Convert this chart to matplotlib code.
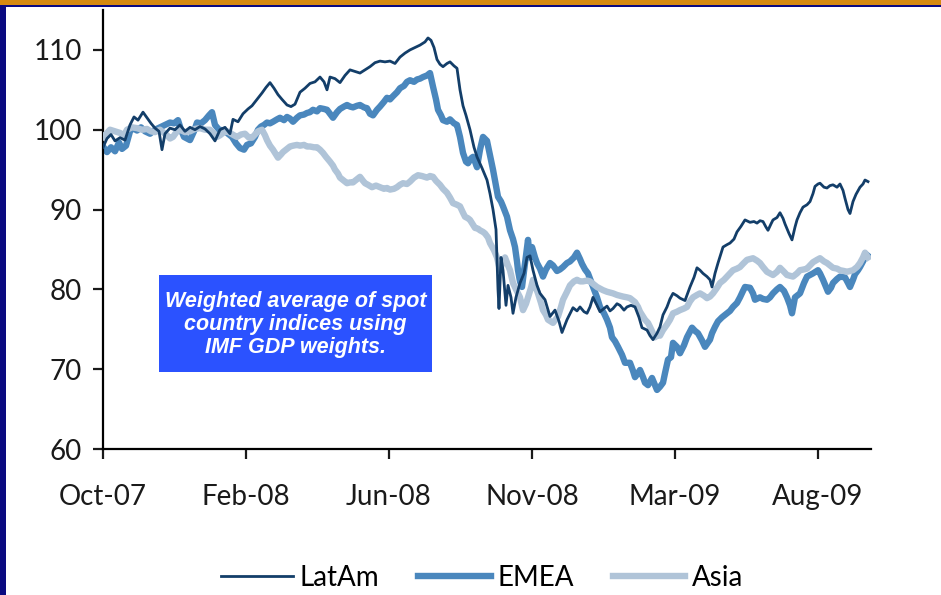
import matplotlib
matplotlib.use("Agg")
import matplotlib.pyplot as plt
from matplotlib.patches import Rectangle

# ---------------------------------------------------------------- data ----#
# observation index (trading days from Oct-07) and index level
latam_t = [0,4,8,12,17,22,27,31,35,40,44,48,52,56,59,62,67,72,77,82,87,92,97,102,107,112,117,122,127,130,
           135,140,145,149,154,159,163,167,171,175,179,184,188,192,197,202,207,212,217,221,224,227,232,237,242,
           247,252,257,262,267,272,277,282,287,292,297,302,307,312,317,322,325,328,331,334,337,340,344,347,351,
           354,357,360,363,367,371,374,379,384,387,390,393,395,396,398,400,403,405,408,410,413,417,421,424,427,
           430,434,437,442,447,452,456,459,464,470,474,477,481,484,487,490,494,497,501,504,507,510,514,517,521,
           524,528,532,536,539,544,547,550,554,557,560,564,567,570,574,577,582,587,591,594,597,600,604,607,609,
           612,615,620,624,627,631,634,638,642,647,651,654,657,660,663,665,668,670,674,677,680,682,686,689,692,
           694,697,700,704,707,710,712,715,717,721,724,727,730,734,737,740,742,745,747,750,753,757,760,762,765]
latam = [97.8,98.9,99.4,98.6,99.0,98.7,100.6,101.6,101.2,102.2,101.5,100.8,100.2,99.8,97.5,99.5,100.2,100.0,
         100.6,99.8,100.3,100.0,100.4,100.1,99.5,98.6,100.0,100.3,99.5,101.3,101.0,102.0,102.6,103.0,103.8,104.6,
         105.3,105.9,105.2,104.4,103.8,103.1,102.9,103.2,104.7,105.2,105.8,106.0,106.6,106.0,105.0,106.6,106.4,
         105.9,106.8,107.5,107.3,107.1,107.5,107.9,108.4,108.6,108.5,108.6,108.3,109.1,109.6,110.0,110.3,110.6,
         111.0,111.5,111.2,110.3,108.8,108.2,107.9,108.3,108.5,108.0,107.7,105.0,103.0,101.8,100.0,97.8,96.6,
         95.2,93.7,92.0,90.0,87.5,80.0,77.6,84.0,82.4,78.0,80.5,79.0,77.0,79.0,80.8,82.0,84.0,84.2,82.4,80.5,
         79.5,78.7,76.6,77.4,76.0,74.6,76.2,77.7,77.3,77.8,77.2,77.0,77.8,79.0,78.0,77.2,77.6,77.9,77.3,77.6,
         78.2,78.0,77.4,77.8,78.0,77.8,76.5,75.2,74.9,74.2,73.7,74.5,75.3,76.8,77.8,78.8,79.5,79.2,78.9,78.6,
         80.3,81.5,82.7,82.4,82.0,81.6,81.2,80.3,82.0,83.3,85.3,85.6,85.8,86.3,87.2,87.9,88.7,88.4,88.5,88.3,
         88.6,88.5,87.8,87.4,88.2,88.7,89.0,89.6,88.9,88.2,87.0,86.2,87.8,88.7,89.6,90.3,90.6,91.0,92.0,92.9,
         93.2,93.3,92.8,92.7,93.0,93.1,92.8,93.2,92.4,91.4,90.0,89.5,91.0,91.9,92.8,93.2,93.7,93.5]

emea_t = [0,4,8,12,16,19,23,27,30,34,38,42,47,52,57,62,67,71,75,78,81,84,87,91,94,98,102,106,109,112,
          116,121,125,129,133,137,141,144,148,152,155,158,161,164,167,170,174,177,181,184,187,190,194,197,201,
          204,207,210,214,217,221,224,227,230,234,237,241,244,247,250,254,257,261,264,267,270,274,277,281,284,
          287,290,294,297,301,304,307,311,314,317,320,324,327,330,333,335,338,340,344,347,351,354,357,360,363,
          365,368,370,372,374,377,380,384,387,390,393,395,398,400,404,407,410,412,414,415,417,419,422,425,427,
          429,432,434,437,440,443,447,450,454,457,460,464,467,471,474,477,479,482,485,488,490,494,497,501,504,
          507,509,512,515,519,522,527,530,532,535,537,540,542,545,549,552,554,557,560,562,565,568,570,574,577,
          581,584,589,592,595,599,602,607,609,612,615,619,624,627,630,634,637,640,642,647,650,652,657,660,664,
          667,670,674,677,681,684,687,689,692,697,701,704,707,710,715,717,720,723,725,728,730,734,737,742,745,
          747,750,752,755,757,760,762,764]
emea = [97.9,97.2,97.8,97.3,98.4,97.6,98.0,99.8,100.2,99.9,100.3,99.8,99.5,100.0,100.3,100.6,100.9,100.8,
        101.2,100.0,99.1,98.9,98.7,99.8,100.9,100.8,101.2,101.8,102.2,100.6,100.0,99.9,99.5,99.1,98.3,97.7,
        97.5,98.1,98.3,99.1,100.0,100.4,100.6,100.9,100.8,101.0,101.3,101.5,101.2,101.6,101.4,101.0,101.5,
        101.8,101.9,102.1,102.2,102.5,102.3,102.7,102.6,102.5,102.0,101.5,102.2,102.6,102.9,103.1,102.9,102.8,
        103.0,103.1,102.8,102.7,102.0,101.8,102.5,102.9,103.5,104.0,103.8,104.2,104.7,105.2,105.5,106.0,106.2,
        106.0,106.3,106.4,106.6,106.8,107.1,105.4,103.8,102.5,101.8,101.2,101.0,101.3,100.8,100.6,99.1,97.1,
        96.0,95.8,96.4,96.6,96.0,95.3,97.5,99.1,98.6,96.8,95.0,93.0,91.6,91.0,90.4,89.1,87.4,86.3,85.3,83.5,
        82.4,81.0,80.3,83.3,86.2,84.0,85.3,84.0,83.3,82.6,81.6,82.5,83.3,83.0,82.3,82.5,82.8,83.3,83.5,84.0,
        84.6,83.8,83.2,82.5,82.0,81.0,80.3,79.0,77.8,77.0,76.2,75.2,74.0,73.5,72.8,71.8,70.8,70.8,69.8,69.0,
        69.5,69.9,69.0,68.3,68.0,68.9,68.0,67.4,67.8,68.3,69.5,71.2,71.5,73.3,72.8,72.0,73.0,74.0,75.2,74.8,
        74.5,73.6,72.8,73.7,74.5,75.3,76.0,76.5,77.0,77.3,77.8,78.3,79.0,79.8,80.3,80.2,79.5,78.7,79.0,78.8,
        78.7,79.0,79.5,80.0,80.3,79.8,79.0,78.0,77.0,79.0,79.5,80.8,81.6,81.8,82.0,82.4,82.0,81.2,80.3,79.7,
        80.2,80.8,81.3,81.6,81.5,80.8,80.3,81.2,81.9,82.4,82.8,83.5,84.0,84.3]

asia_t = [0,4,7,12,17,21,24,29,34,39,44,48,52,57,61,64,67,70,74,77,82,87,92,97,102,107,111,114,117,120,
          124,127,131,134,138,142,146,149,152,155,159,162,164,167,170,173,175,178,180,184,187,190,194,197,201,
          204,207,211,214,217,220,223,227,230,232,235,237,241,244,247,250,254,257,260,262,265,269,273,277,281,
          284,287,291,294,297,300,304,307,311,315,319,324,327,330,333,337,340,344,347,350,354,357,360,362,365,
          367,370,372,375,377,380,382,385,387,391,394,397,399,402,405,407,410,413,417,420,423,425,428,430,432,
          435,438,440,443,445,450,455,458,460,464,467,471,474,477,480,484,487,491,494,497,500,504,507,510,514,
          517,520,524,527,530,532,535,537,540,542,545,547,550,552,555,557,560,564,567,570,574,577,581,584,587,
          590,594,597,601,604,607,610,614,617,621,624,627,630,634,637,640,644,647,650,654,657,660,664,667,670,
          674,677,681,684,687,690,694,697,701,704,707,710,714,717,721,724,727,730,734,737,741,744,747,750,754,
          757,760,762,765]
asia = [99.1,99.6,100.0,99.8,99.6,99.3,100.0,100.3,100.2,100.0,100.1,99.8,99.7,100.0,99.6,99.3,98.9,99.1,
        99.8,100.0,99.7,99.8,100.1,100.2,100.0,100.0,99.5,99.1,99.3,99.6,99.8,99.6,99.3,99.1,99.4,99.5,99.0,
        99.0,99.4,99.8,100.0,99.3,98.7,98.0,97.5,96.9,96.5,96.9,97.2,97.6,97.9,98.0,98.1,98.0,98.1,97.9,97.9,
        97.8,97.8,97.5,97.1,96.6,96.0,95.5,95.0,94.5,94.0,93.6,93.3,93.4,93.4,93.8,94.1,93.6,93.3,93.1,92.8,
        93.0,92.8,92.6,92.7,92.5,92.6,92.8,93.1,93.3,93.2,93.5,94.0,94.3,94.2,94.0,94.2,94.1,93.6,93.1,92.6,
        92.1,91.5,90.8,90.6,90.4,89.6,89.1,88.9,88.7,88.1,87.7,87.6,87.4,87.2,87.0,86.5,85.8,84.9,84.0,82.4,
        83.2,84.0,83.0,82.4,80.8,80.0,79.0,77.4,78.2,79.0,80.2,81.2,80.5,79.5,78.3,77.4,76.8,76.2,75.8,76.6,
        77.8,78.7,79.7,80.5,81.0,81.2,81.0,81.0,81.1,81.0,80.6,80.3,80.1,79.9,79.7,79.6,79.5,79.3,79.2,79.1,
        79.0,78.9,78.6,78.4,77.8,77.2,76.6,76.2,75.8,75.3,74.5,74.0,74.3,74.2,74.9,75.6,76.2,77.0,77.2,77.4,
        77.6,77.8,78.5,79.0,79.3,79.5,79.2,78.9,79.1,79.5,80.2,80.8,81.2,81.6,82.0,82.4,82.6,82.8,83.2,83.7,
        83.8,83.9,83.6,83.3,82.8,82.2,82.0,81.8,82.2,82.7,82.2,81.8,81.7,81.6,82.0,82.4,82.5,82.6,83.0,83.4,
        83.7,83.9,83.5,83.3,83.0,82.7,82.6,82.4,82.3,82.2,82.3,82.4,82.8,83.3,84.0,84.6,84.0]

tick_pos = [0, 143, 286, 429, 572, 715]
tick_labels = ['Oct-07', 'Feb-08', 'Jun-08', 'Nov-08', 'Mar-09', 'Aug-09']
y_ticks = [60, 70, 80, 90, 100, 110]

note = 'Weighted average of spot\ncountry indices using\nIMF GDP weights.'

# --------------------------------------------------------------- figure ---#
plt.rcParams['font.family'] = ['Lato', 'DejaVu Sans']

fig = plt.figure(figsize=(9.41, 5.95), dpi=100)
fig.patch.set_facecolor('white')

# slide frame: gold band + navy line on top, navy strip on left
fig.patches.append(Rectangle((0, 1 - 5 / 595), 1, 5 / 595, transform=fig.transFigure,
                             facecolor='#D58A10', edgecolor='none', zorder=0))
fig.patches.append(Rectangle((0, 1 - 7 / 595), 1, 2 / 595, transform=fig.transFigure,
                             facecolor='#0A0A80', edgecolor='none', zorder=0))
fig.patches.append(Rectangle((0, 0), 6 / 941, 1 - 7 / 595, transform=fig.transFigure,
                             facecolor='#0A0A80', edgecolor='none', zorder=0))

ax = fig.add_axes([103 / 941, 146 / 595, 768 / 941, 439 / 595])

ax.plot(emea_t, emea, color='#4A87BD', lw=4.6, label='EMEA', zorder=2, solid_joinstyle='round')
ax.plot(asia_t, asia, color='#B0C4D8', lw=4.6, label='Asia', zorder=3, solid_joinstyle='round')
ax.plot(latam_t, latam, color='#133E69', lw=2.0, label='LatAm', zorder=4)

ax.set_xlim(0, 768)
ax.set_ylim(60, 115)
ax.set_xticks(tick_pos)
ax.set_xticklabels(tick_labels)
ax.set_yticks(y_ticks)

for side in ['top', 'right']:
    ax.spines[side].set_visible(False)
for side in ['left', 'bottom']:
    ax.spines[side].set_linewidth(1.6)
    ax.spines[side].set_color('black')

ax.tick_params(axis='y', direction='out', length=7, width=1.6, pad=8, labelsize=20, colors='#1a1a1a')
ax.tick_params(axis='x', direction='out', length=7, width=1.6, pad=18, labelsize=20, colors='#1a1a1a')

# note box
ax.add_patch(Rectangle((56, 69.65), 273, 12.15, facecolor='#2B52FF', edgecolor='none', zorder=5))
ax.text(192.5, 75.6, note, ha='center', va='center', color='white', fontsize=15.5,
        fontweight='bold', fontstyle='italic', family=['Liberation Sans', 'DejaVu Sans'],
        linespacing=1.1, zorder=6)

handles, labels = ax.get_legend_handles_labels()
order = [2, 0, 1]
leg = fig.legend([handles[i] for i in order], [labels[i] for i in order],
                 loc='center', bbox_to_anchor=(482 / 941, 17 / 595), ncol=3, frameon=False,
                 fontsize=20, handlelength=2.6, handletextpad=0.25, columnspacing=1.4)

fig.savefig('out.png', dpi=100, facecolor=fig.get_facecolor())
